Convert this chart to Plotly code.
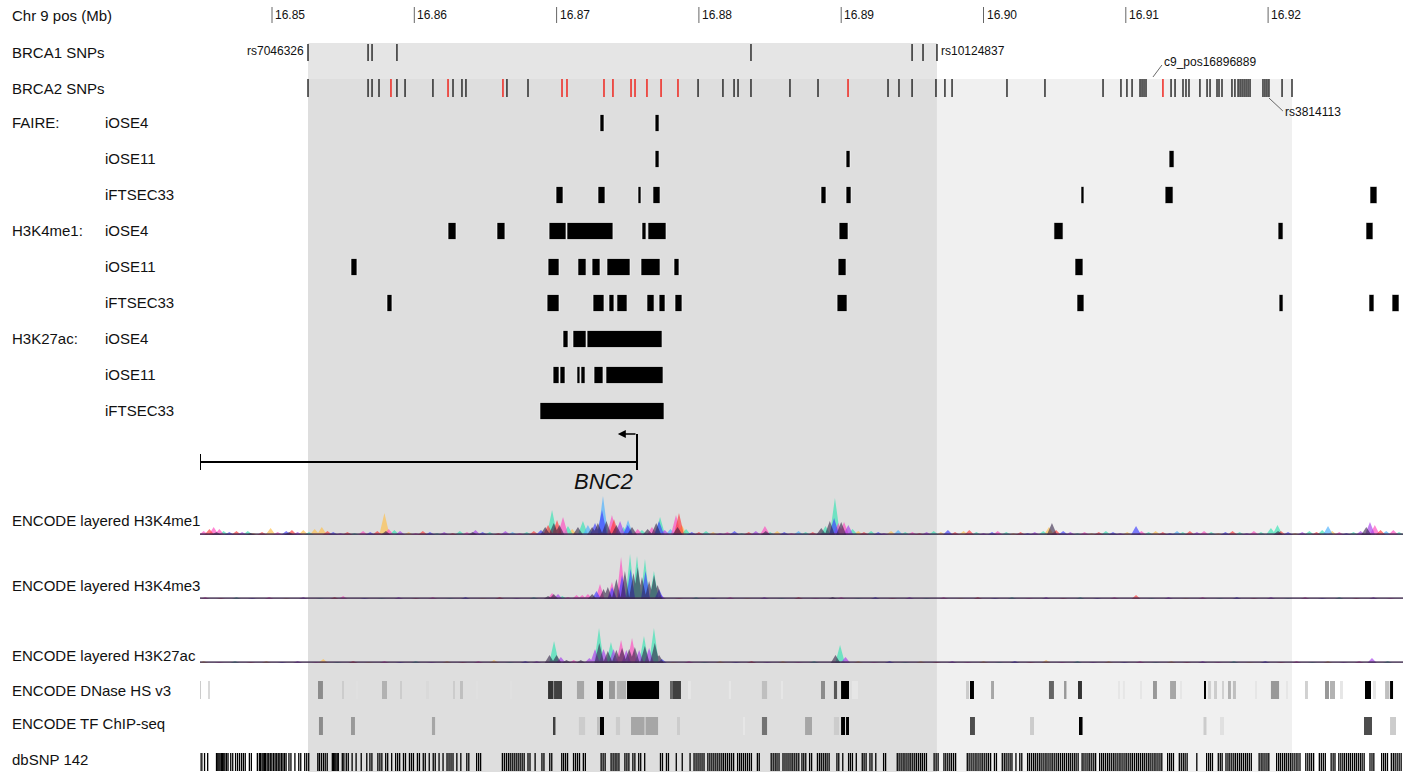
import plotly.graph_objects as go

# ------------------------------------------------------------------ data
view_start, view_end = 16844.94, 16929.48          # kb, chr9
tick_pos = [16850, 16860, 16870, 16880, 16890, 16900, 16910, 16920]
tick_labels = ["16.85", "16.86", "16.87", "16.88", "16.89", "16.90", "16.91", "16.92"]

brca1_snps = [16852.53, 16856.75, 16857.03, 16858.78, 16883.66, 16894.98, 16895.75, 16896.73]
brca2_snps = [16852.53, 16856.75, 16857.03, 16857.52, 16858.78, 16859.35, 16861.31, 16862.72,
              16863.35, 16863.63, 16866.51, 16867.99, 16879.94, 16881.69, 16882.47, 16882.75,
              16883.66, 16886.40, 16888.37, 16893.29, 16894.06, 16894.98, 16896.66, 16897.29,
              16897.79, 16901.65, 16904.32, 16908.40, 16909.66, 16910.08, 16910.44, 16911.00,
              16911.14, 16911.28, 16911.42, 16913.18, 16913.46, 16914.02, 16914.23, 16914.44,
              16915.21, 16915.71, 16915.92, 16916.41, 16916.55, 16916.76, 16917.46, 16917.67,
              16917.89, 16918.03, 16918.17, 16918.31, 16918.45, 16918.59, 16918.73, 16919.64,
              16919.78, 16919.92, 16920.06, 16920.98, 16921.68]
brca2_snps_red = [16858.36, 16862.37, 16866.23, 16870.38, 16870.73, 16873.33, 16873.96, 16875.23,
                  16875.51, 16876.35, 16877.34, 16878.53, 16890.48, 16912.61]
brca1_end_labels = ["rs7046326", "rs10124837"]
brca2_label_names = ["c9_pos16896889", "rs3814113"]
brca2_label_snps = [16912.61, 16920.06]

# called peaks (start, end) in kb
faire_iOSE4 = [(16873.05, 16873.33), (16876.92, 16877.20)]
faire_iOSE11 = [(16876.92, 16877.20), (16890.34, 16890.62), (16913.04, 16913.39)]
faire_iFTSEC33 = [(16869.96, 16870.45), (16872.91, 16873.40), (16875.72, 16875.93), (16876.77, 16877.27),
                  (16888.58, 16888.93), (16890.34, 16890.69), (16906.85, 16907.06), (16912.76, 16913.32),
                  (16927.16, 16927.65)]
k4me1_iOSE4 = [(16862.37, 16862.93), (16865.81, 16866.37), (16869.47, 16870.66), (16870.73, 16873.96),
               (16876.00, 16876.28), (16876.42, 16877.69), (16889.85, 16890.48), (16904.95, 16905.59),
               (16920.70, 16921.05), (16926.88, 16927.37)]
k4me1_iOSE11 = [(16855.55, 16855.97), (16869.40, 16870.17), (16871.50, 16872.07), (16872.49, 16873.05),
                (16873.54, 16875.16), (16875.93, 16877.27), (16878.25, 16878.60), (16889.78, 16890.34),
                (16906.43, 16906.99)]
k4me1_iFTSEC33 = [(16858.08, 16858.43), (16869.33, 16870.17), (16872.56, 16873.33), (16873.68, 16874.03),
                  (16874.24, 16874.95), (16876.35, 16876.85), (16877.20, 16877.62), (16878.32, 16878.81),
                  (16889.71, 16890.41), (16906.57, 16907.06), (16920.77, 16921.05), (16927.09, 16927.44),
                  (16928.71, 16929.20)]
k27ac_iOSE4 = [(16870.45, 16870.80), (16871.15, 16872.07), (16872.14, 16877.41)]
k27ac_iOSE11 = [(16869.75, 16870.17), (16870.24, 16870.59), (16871.43, 16871.64), (16871.71, 16872.00),
                (16872.63, 16873.26), (16873.47, 16877.48)]
k27ac_iFTSEC33 = [(16868.83, 16877.55)]

peak_groups = ["FAIRE:", "H3K4me1:", "H3K27ac:"]
peak_cells = ["iOSE4", "iOSE11", "iFTSEC33"]
peak_rows = [faire_iOSE4, faire_iOSE11, faire_iFTSEC33,
             k4me1_iOSE4, k4me1_iOSE11, k4me1_iFTSEC33,
             k27ac_iOSE4, k27ac_iOSE11, k27ac_iFTSEC33]

gene_name = "BNC2"
gene_start, gene_end = 16844.94, 16875.65     # minus strand, TSS at gene_end

# ENCODE layered histone signal: (position kb, signal, cell line code)
# r GM12878, y H1-hESC, t HSMM, c HUVEC, b K562, p NHEK, m NHLF, d overlap of several lines
me1_peaks = [
    (16845.2, 4, 'm'), (16845.6, 6, 'r'), (16845.9, 8, 'm'), (16846.1, 3, 'd'), (16846.3, 6, 'm'),
    (16846.6, 4, 't'), (16847.0, 3, 'b'), (16847.5, 4, 'r'), (16847.9, 3, 'p'), (16848.3, 4, 't'),
    (16848.5, 2, 'd'), (16848.7, 2, 'y'), (16849.3, 3, 'r'), (16849.9, 7, 'y'), (16850.4, 3, 'm'),
    (16851.0, 4, 'b'), (16851.2, 3, 'd'), (16851.4, 5, 'r'), (16851.8, 3, 'p'), (16852.2, 5, 'y'),
    (16852.6, 3, 't'), (16853.0, 6, 'y'), (16853.5, 8, 'y'), (16853.9, 4, 'r'), (16854.3, 3, 'b'),
    (16854.8, 2, 'p'), (16855.3, 3, 'r'), (16855.8, 2, 't'), (16856.4, 4, 'm'), (16856.9, 3, 'b'),
    (16857.4, 4, 'r'), (16857.9, 22, 'y'), (16858.0, 4, 'd'), (16858.2, 6, 'm'), (16858.6, 5, 't'),
    (16859.0, 4, 'p'), (16859.6, 3, 'y'), (16860.1, 2, 'm'), (16860.6, 4, 'r'), (16861.1, 3, 'b'),
    (16861.6, 2, 't'), (16862.1, 3, 'p'), (16862.7, 2, 'r'), (16863.2, 4, 't'), (16863.7, 3, 'm'),
    (16864.1, 3, 'd'), (16864.3, 5, 'p'), (16864.8, 3, 'b'), (16865.3, 3, 't'), (16865.9, 2, 'r'),
    (16866.4, 4, 'p'), (16866.9, 3, 'c'), (16867.4, 2, 'm'), (16867.9, 3, 't'), (16868.4, 4, 'r'),
    (16868.9, 5, 'b'),
    (16869.2, 8, 'd'), (16869.4, 10, 'r'), (16869.68, 25, 't'), (16869.8, 12, 'd'), (16870.03, 15, 'r'),
    (16870.2, 10, 'd'), (16870.45, 18, 'm'), (16870.8, 9, 't'), (16871.1, 6, 'y'), (16871.5, 8, 'd'),
    (16871.85, 14, 't'), (16872.2, 10, 'c'), (16872.5, 8, 'd'), (16872.7, 12, 'b'), (16872.9, 12, 'd'),
    (16873.19, 25, 'b'), (16873.26, 39, 'c'), (16873.5, 14, 'd'), (16873.89, 20, 'm'), (16874.03, 16, 'r'),
    (16874.2, 10, 'd'), (16874.46, 14, 'p'), (16874.7, 8, 't'), (16875.0, 10, 'b'), (16875.02, 15, 'c'),
    (16875.3, 8, 'd'), (16875.7, 6, 'm'), (16876.0, 5, 't'), (16876.4, 6, 'd'), (16876.7, 8, 'm'),
    (16877.0, 12, 'd'), (16877.2, 14, 'b'), (16877.27, 18, 't'), (16877.6, 5, 'p'), (16878.0, 6, 'c'),
    (16878.39, 20, 'm'), (16878.6, 22, 'r'), (16878.5, 8, 'd'), (16878.8, 10, 'y'), (16879.1, 6, 't'),
    (16879.5, 3, 'b'),
    (16880.0, 3, 'r'), (16880.5, 4, 't'), (16881.0, 3, 'y'), (16881.5, 2, 'p'), (16882.0, 3, 'm'),
    (16882.5, 4, 'b'), (16883.0, 2, 't'), (16883.5, 3, 'r'), (16884.0, 4, 'p'), (16884.64, 9, 'm'),
    (16884.7, 4, 'd'), (16885.0, 3, 't'), (16885.5, 4, 'y'), (16886.0, 3, 'b'), (16886.5, 2, 'm'),
    (16887.0, 4, 'c'), (16887.5, 3, 't'), (16888.0, 3, 'r'), (16888.6, 7, 'd'), (16888.9, 9, 't'),
    (16889.2, 14, 'd'), (16889.5, 17, 'b'), (16889.56, 37, 't'), (16889.8, 12, 'm'), (16890.0, 13, 'd'),
    (16890.2, 13, 'm'), (16890.5, 10, 'p'), (16890.8, 6, 't'), (16891.2, 4, 'y'), (16891.6, 3, 'r'),
    (16892.1, 4, 't'), (16892.6, 3, 'b'), (16893.0, 2, 'p'), (16893.5, 4, 'y'), (16894.0, 5, 'c'),
    (16894.5, 3, 't'), (16895.0, 3, 'm'), (16895.5, 2, 'r'), (16896.0, 3, 'p'), (16896.5, 4, 't'),
    (16897.0, 3, 'y'), (16897.5, 5, 'b'), (16898.0, 3, 'r'), (16898.6, 4, 'y'), (16899.0, 5, 'r'),
    (16899.5, 3, 't'), (16900.0, 2, 'p'), (16900.6, 3, 'b'), (16901.0, 4, 'm'), (16901.6, 3, 't'),
    (16902.1, 2, 'y'), (16902.6, 3, 'r'), (16903.1, 2, 'b'), (16903.6, 3, 'p'), (16904.2, 4, 't'),
    (16904.6, 8, 'y'), (16904.81, 12, 'd'), (16905.1, 5, 'r'), (16905.6, 4, 'b'), (16906.1, 3, 'p'),
    (16906.6, 2, 't'), (16907.1, 3, 'm'), (16907.6, 2, 'y'), (16908.1, 3, 'r'), (16908.6, 4, 't'),
    (16909.1, 3, 'b'), (16909.6, 2, 'p'), (16910.1, 3, 'y'), (16910.72, 9, 'b'), (16911.1, 4, 'm'),
    (16911.6, 3, 't'), (16912.1, 4, 'y'), (16912.6, 3, 'r'), (16913.1, 2, 'b'), (16913.6, 4, 'c'),
    (16914.0, 3, 't'), (16914.5, 4, 'r'), (16915.0, 3, 'p'), (16915.5, 4, 'm'), (16916.0, 3, 't'),
    (16916.5, 2, 'y'), (16917.0, 3, 'b'), (16917.5, 4, 'r'), (16918.0, 3, 't'), (16918.5, 2, 'p'),
    (16919.0, 4, 'm'), (16919.5, 3, 't'), (16920.2, 7, 't'), (16920.66, 10, 't'), (16920.7, 4, 'd'),
    (16920.9, 4, 'r'), (16921.4, 3, 'b'), (16921.9, 2, 'y'), (16922.4, 3, 'p'), (16922.9, 4, 't'),
    (16923.4, 3, 'r'), (16923.8, 5, 't'), (16924.21, 9, 'c'), (16924.5, 4, 'y'), (16925.0, 3, 'm'),
    (16925.5, 2, 'b'), (16926.0, 3, 't'), (16926.5, 4, 'p'), (16926.9, 8, 'd'), (16927.16, 13, 'p'),
    (16927.5, 10, 'm'), (16927.9, 5, 'r'), (16928.3, 4, 'c'), (16928.8, 5, 'm'), (16929.2, 3, 't'),
]

me3_peaks = [
    (16845.3, 2, 'm'), (16846.4, 1, 'r'), (16847.5, 2, 't'), (16848.6, 1, 'b'), (16849.8, 2, 'm'),
    (16851.0, 1, 'y'), (16852.2, 2, 'p'), (16853.4, 1, 't'), (16854.4, 2, 'r'), (16855.0, 3, 'm'),
    (16856.5, 1, 'b'), (16857.7, 1, 't'), (16858.9, 2, 'p'), (16860.1, 1, 'r'), (16861.3, 2, 'm'),
    (16862.5, 1, 't'), (16863.6, 2, 'b'), (16864.8, 1, 'y'), (16866.0, 2, 'r'), (16867.2, 1, 'p'),
    (16868.4, 2, 't'),
    (16869.4, 3, 'd'), (16869.68, 6, 'm'), (16869.8, 5, 'd'), (16870.1, 5, 'p'), (16870.4, 3, 't'),
    (16870.8, 2, 'm'), (16871.4, 4, 'm'), (16871.8, 4, 'm'), (16872.2, 5, 'm'), (16872.5, 5, 'd'),
    (16872.8, 8, 'b'), (16873.05, 15, 'm'), (16873.3, 10, 'd'), (16873.6, 12, 'd'), (16873.89, 17, 'm'),
    (16873.9, 12, 'b'), (16874.2, 20, 'd'), (16874.53, 42, 'm'), (16874.6, 24, 'b'), (16874.8, 28, 'd'),
    (16875.16, 45, 't'), (16875.2, 30, 'b'), (16875.4, 26, 'd'), (16875.65, 43, 't'), (16875.7, 32, 'd'),
    (16876.0, 22, 'd'), (16876.21, 40, 't'), (16876.25, 28, 'b'), (16876.5, 18, 'd'), (16876.84, 28, 't'),
    (16876.85, 24, 'd'), (16877.1, 14, 'd'), (16877.2, 10, 'b'), (16877.35, 4, 'p'),
    (16878.6, 1, 'r'), (16879.8, 2, 't'), (16881.0, 1, 'b'), (16882.2, 2, 'm'), (16883.4, 1, 'y'),
    (16884.6, 2, 'p'), (16885.8, 1, 't'), (16887.0, 2, 'r'), (16888.2, 1, 'm'), (16889.4, 2, 'd'),
    (16890.0, 2, 'm'), (16891.2, 1, 't'), (16892.4, 2, 'b'), (16893.6, 1, 'r'), (16894.8, 2, 'p'),
    (16896.0, 1, 't'), (16897.2, 2, 'm'), (16898.4, 1, 'y'), (16899.6, 2, 'r'), (16900.8, 1, 'b'),
    (16902.0, 2, 't'), (16903.2, 1, 'm'), (16904.4, 2, 'p'), (16905.6, 1, 'r'), (16906.8, 2, 't'),
    (16908.0, 1, 'b'), (16909.2, 2, 'm'), (16910.72, 4, 'r'), (16911.8, 1, 't'), (16913.0, 2, 'p'),
    (16914.2, 1, 'y'), (16915.4, 2, 'm'), (16916.6, 1, 't'), (16917.8, 2, 'b'), (16919.0, 1, 'r'),
    (16920.2, 2, 'p'), (16921.4, 1, 't'), (16922.6, 2, 'm'), (16923.8, 1, 'b'), (16925.0, 2, 't'),
    (16926.2, 1, 'r'), (16927.4, 2, 'p'), (16928.6, 1, 'm'),
]

k27ac_peaks = [
    (16845.2, 2, 'y'), (16846.3, 1, 'm'), (16847.4, 2, 't'), (16848.5, 1, 'r'), (16849.6, 2, 'y'),
    (16850.7, 1, 'b'), (16851.8, 2, 'p'), (16853.1, 1, 'm'), (16853.6, 4, 'y'), (16854.6, 1, 't'),
    (16855.7, 2, 'r'), (16856.8, 1, 'y'), (16857.9, 2, 'm'), (16859.0, 1, 'b'), (16860.1, 2, 't'),
    (16861.2, 1, 'p'), (16862.3, 2, 'y'), (16863.4, 1, 'r'), (16864.5, 2, 'm'), (16865.6, 3, 'y'),
    (16866.7, 1, 't'), (16867.8, 2, 'b'), (16868.6, 2, 'p'),
    (16869.5, 8, 'd'), (16869.82, 22, 't'), (16870.0, 8, 'd'), (16870.3, 6, 'p'), (16870.7, 3, 'd'),
    (16871.2, 3, 'm'), (16871.7, 3, 'd'), (16872.3, 5, 'p'), (16872.7, 14, 'p'), (16872.98, 35, 't'),
    (16873.0, 20, 'd'), (16873.3, 14, 'p'), (16873.6, 12, 'd'), (16873.82, 21, 't'), (16874.0, 14, 'p'),
    (16874.2, 13, 'd'), (16874.53, 23, 'm'), (16874.6, 15, 'd'), (16874.9, 13, 'p'), (16875.1, 14, 'd'),
    (16875.3, 25, 'm'), (16875.5, 16, 'd'), (16875.8, 13, 'p'), (16876.14, 27, 't'), (16876.2, 17, 'd'),
    (16876.5, 15, 'p'), (16876.84, 35, 't'), (16876.9, 20, 'd'), (16877.2, 8, 'd'), (16877.4, 4, 'b'),
    (16878.2, 1, 'y'), (16879.3, 2, 'm'), (16880.4, 1, 't'), (16881.5, 2, 'y'), (16882.6, 1, 'b'),
    (16883.7, 2, 'r'), (16884.8, 1, 'p'), (16885.9, 2, 'y'), (16887.0, 1, 'm'), (16888.1, 2, 't'),
    (16889.6, 8, 'd'), (16889.92, 18, 't'), (16890.3, 6, 'p'), (16891.2, 2, 'y'), (16892.3, 1, 'm'),
    (16893.4, 2, 'b'), (16894.5, 1, 't'), (16895.6, 2, 'y'), (16896.7, 1, 'r'), (16897.8, 2, 'p'),
    (16898.9, 1, 'm'), (16900.0, 2, 'y'), (16901.1, 1, 't'), (16902.2, 2, 'b'), (16903.3, 1, 'r'),
    (16904.4, 3, 'y'), (16905.5, 1, 'm'), (16906.6, 2, 't'), (16907.7, 1, 'p'), (16908.8, 2, 'y'),
    (16909.9, 1, 'b'), (16911.0, 2, 'm'), (16912.1, 1, 't'), (16913.2, 2, 'y'), (16914.3, 1, 'r'),
    (16915.4, 2, 'p'), (16916.5, 1, 'm'), (16917.6, 2, 't'), (16918.7, 1, 'y'), (16919.8, 2, 'b'),
    (16920.9, 1, 'r'), (16922.0, 2, 'm'), (16923.1, 1, 't'), (16924.2, 2, 'y'), (16925.3, 1, 'p'),
    (16926.4, 2, 'm'), (16927.3, 5, 'p'), (16928.4, 2, 't'),
]

# ENCODE DNase HS v3 clusters: (start, end, score 0-1000)
dnase_clusters = [
    (16844.87, 16844.98, 200), (16845.57, 16845.64, 150), (16853.23, 16853.58, 450), (16854.92, 16855.06, 200),
    (16855.97, 16856.04, 120), (16857.73, 16858.08, 300), (16859.00, 16859.07, 200), (16860.89, 16861.03, 150),
    (16862.72, 16862.86, 200), (16863.28, 16863.42, 250), (16864.34, 16864.41, 120), (16866.73, 16866.87, 120),
    (16869.40, 16869.78, 800), (16869.82, 16870.38, 750), (16871.43, 16871.93, 350), (16872.84, 16873.26, 1000),
    (16873.68, 16874.10, 400), (16874.24, 16874.88, 300), (16874.95, 16877.20, 1000), (16877.97, 16878.18, 600),
    (16878.18, 16878.74, 750), (16879.30, 16879.44, 100), (16882.11, 16882.26, 100), (16884.43, 16884.79, 250),
    (16885.77, 16885.91, 100), (16888.58, 16888.86, 450), (16889.49, 16889.71, 650), (16889.99, 16890.55, 1000),
    (16890.76, 16891.18, 100), (16898.77, 16898.98, 200), (16899.05, 16899.33, 1000), (16900.53, 16900.74, 350),
    (16904.60, 16904.95, 600), (16905.66, 16905.83, 400), (16906.64, 16906.92, 800), (16909.45, 16909.59, 100),
    (16909.80, 16909.94, 100), (16911.00, 16911.14, 100), (16911.91, 16912.19, 400), (16913.11, 16913.53, 350),
    (16913.81, 16913.95, 100), (16915.50, 16915.60, 1000), (16915.78, 16915.99, 180), (16916.20, 16916.41, 200),
    (16916.76, 16916.90, 180), (16917.25, 16917.39, 300), (16917.53, 16917.74, 250), (16919.08, 16919.22, 100),
    (16920.20, 16920.77, 400), (16921.26, 16921.40, 100), (16922.66, 16922.80, 180), (16924.00, 16924.28, 400),
    (16924.35, 16924.70, 300), (16925.12, 16925.26, 100), (16926.81, 16927.23, 1000), (16927.44, 16927.58, 100),
    (16928.22, 16928.53, 250), (16928.57, 16928.78, 1000),
]

# ENCODE TF ChIP-seq clusters: (start, end, score 0-1000)
tf_clusters = [
    (16853.30, 16853.58, 450), (16855.55, 16855.83, 400), (16861.24, 16861.46, 350), (16869.78, 16869.92, 750),
    (16871.57, 16872.00, 200), (16872.84, 16873.05, 250), (16873.05, 16873.33, 1000), (16874.17, 16874.46, 200),
    (16875.23, 16876.18, 350), (16876.25, 16877.13, 350), (16878.46, 16878.67, 200), (16883.10, 16883.24, 100),
    (16884.43, 16884.79, 550), (16887.46, 16887.95, 350), (16889.49, 16889.85, 200), (16889.99, 16890.27, 1000),
    (16890.34, 16890.55, 1000), (16899.05, 16899.40, 700), (16903.27, 16903.55, 200), (16906.71, 16906.96, 1000),
    (16915.46, 16915.67, 200), (16916.62, 16916.90, 120), (16926.74, 16927.30, 700), (16928.57, 16928.99, 200),
]

# dbSNP 142 variant positions (kb)
dbsnp142 = [
    16844.93, 16845.07, 16845.26, 16845.48, 16846.10, 16846.19, 16846.27, 16846.35, 16846.44, 16846.52,
    16846.61, 16846.69, 16846.80, 16846.91, 16847.10, 16847.24, 16847.44, 16847.58, 16847.72, 16847.86,
    16847.99, 16848.12, 16848.41, 16848.55, 16848.97, 16849.11, 16849.19, 16849.30, 16849.38, 16849.47,
    16849.55, 16849.66, 16849.77, 16849.88, 16849.99, 16850.11, 16850.22, 16850.33, 16850.44, 16850.55,
    16850.66, 16850.77, 16850.88, 16850.99, 16851.19, 16851.33, 16851.61, 16851.88, 16852.02, 16852.30,
    16852.44, 16852.58, 16853.22, 16853.33, 16853.47, 16853.61, 16853.74, 16853.88, 16854.24, 16854.33,
    16854.41, 16854.49, 16854.58, 16854.66, 16854.94, 16855.05, 16855.22, 16855.36, 16855.63, 16855.91,
    16856.27, 16856.66, 16856.88, 16857.02, 16857.44, 16857.58, 16857.72, 16857.99, 16858.13, 16858.41,
    16858.69, 16858.83, 16858.97, 16859.24, 16859.38, 16859.66, 16859.80, 16859.94, 16860.22, 16860.36,
    16860.63, 16860.77, 16861.05, 16861.33, 16861.47, 16861.74, 16862.02, 16862.30, 16862.44, 16862.58,
    16862.72, 16862.99, 16863.27, 16863.69, 16863.83, 16864.38, 16864.52, 16864.66, 16866.19, 16866.33,
    16866.47, 16866.61, 16866.74, 16866.88, 16867.02, 16867.16, 16867.30, 16867.44, 16867.58, 16867.72,
    16867.99, 16868.13, 16868.49, 16868.97, 16869.11, 16869.52, 16869.66, 16870.36, 16870.49, 16870.63,
    16870.77, 16871.19, 16871.33, 16871.47, 16871.61, 16871.88, 16872.02, 16873.13, 16873.27, 16873.41,
    16873.83, 16873.97, 16874.11, 16874.24, 16874.38, 16874.80, 16874.94, 16875.08, 16875.36, 16875.50,
    16875.77, 16875.91, 16876.19, 16877.30, 16877.44, 16877.72, 16877.86, 16878.41, 16878.83, 16879.38,
    16879.66, 16879.80, 16879.94, 16880.08, 16880.22, 16880.36, 16880.63, 16880.77, 16880.91, 16881.05,
    16881.19, 16881.33, 16881.47, 16881.61, 16881.74, 16881.88, 16882.02, 16882.16, 16882.30, 16882.44,
    16882.72, 16882.86, 16882.99, 16883.13, 16883.27, 16883.41, 16883.55, 16883.69, 16884.11, 16884.24,
    16885.08, 16885.22, 16885.36, 16885.49, 16885.63, 16885.91, 16886.05, 16886.19, 16886.33, 16886.47,
    16886.60, 16886.74, 16886.88, 16887.02, 16887.24, 16887.37, 16887.51, 16887.78, 16887.92, 16888.33,
    16888.47, 16888.60, 16888.74, 16888.88, 16889.01, 16889.15, 16889.70, 16889.83, 16890.11, 16890.52,
    16890.65, 16890.79, 16891.06, 16891.48, 16891.61, 16891.75, 16892.02, 16892.16, 16892.43, 16892.98,
    16893.12, 16893.94, 16894.07, 16894.21, 16894.35, 16894.48, 16894.62, 16894.76, 16894.89, 16895.03,
    16895.17, 16895.30, 16895.44, 16895.58, 16895.71, 16895.85, 16895.99, 16896.53, 16896.67, 16896.81,
    16897.22, 16897.35, 16897.49, 16897.63, 16897.76, 16897.90, 16898.04, 16898.86, 16898.99, 16899.13,
    16899.27, 16899.41, 16899.54, 16899.68, 16899.82, 16899.95, 16900.09, 16900.23, 16900.36, 16900.50,
    16900.77, 16900.91, 16901.32, 16901.46, 16901.59, 16901.73, 16901.87, 16902.00, 16902.28, 16902.55,
    16902.69, 16903.10, 16903.23, 16903.37, 16903.51, 16903.64, 16903.78, 16903.92, 16904.05, 16904.19,
    16904.33, 16904.46, 16904.60, 16904.74, 16904.87, 16905.01, 16905.15, 16905.28, 16905.42, 16905.56,
    16905.69, 16905.83, 16905.97, 16906.10, 16906.24, 16906.38, 16906.51, 16906.65, 16906.93, 16907.06,
    16907.20, 16907.34, 16907.47, 16907.61, 16907.75, 16907.88, 16908.16, 16908.30, 16908.43, 16908.57,
    16908.71, 16908.84, 16908.98, 16909.12, 16909.25, 16909.39, 16909.53, 16909.66, 16909.80, 16909.94,
    16910.07, 16910.21, 16910.35, 16910.48, 16910.62, 16910.76, 16910.89, 16911.03, 16911.17, 16911.30,
    16911.44, 16911.58, 16911.71, 16911.85, 16911.99, 16912.12, 16912.26, 16912.40, 16912.53, 16912.94,
    16913.08, 16913.21, 16913.35, 16913.76, 16913.90, 16914.04, 16914.17, 16914.31, 16914.99, 16915.68,
    16915.82, 16915.95, 16916.09, 16916.50, 16916.64, 16916.77, 16917.04, 16917.18, 16917.31, 16917.45,
    16917.59, 16917.72, 16917.86, 16918.00, 16918.13, 16918.27, 16918.41, 16918.54, 16918.68, 16918.82,
    16919.37, 16919.51, 16919.64, 16919.78, 16919.92, 16920.05, 16920.60, 16920.74, 16920.87, 16921.01,
    16921.15, 16921.28, 16921.42, 16921.56, 16921.69, 16921.83, 16921.97, 16922.10, 16922.24, 16922.65,
    16922.79, 16922.93, 16923.06, 16923.20, 16923.60, 16923.74, 16923.88, 16924.02, 16924.43, 16924.57,
    16924.70, 16924.97, 16925.11, 16925.25, 16925.38, 16925.52, 16925.66, 16925.79, 16925.93, 16926.07,
    16926.20, 16926.34, 16926.48, 16926.61, 16926.75, 16927.16, 16927.30, 16927.43, 16927.98, 16928.12,
    16928.25, 16928.39, 16928.66, 16928.80, 16928.93, 16929.07, 16929.21, 16929.35,
]

track_labels = ["ENCODE layered H3K4me1", "ENCODE layered H3K4me3", "ENCODE layered H3K27ac",
                "ENCODE DNase HS v3", "ENCODE TF ChIP-seq", "dbSNP 142"]

# ------------------------------------------------------------------ style / layout
W, H = 1411, 772
FONT = "Liberation Sans, Arial, Helvetica, sans-serif"
LABEL_SIZE = 15
X_LEFT, X_RIGHT = 200, 1403

cell_colors = {
    'y': "rgba(255,190,70,0.65)", 't': "rgba(50,228,178,0.65)", 'c': "rgba(70,175,255,0.65)",
    'm': "rgba(255,70,190,0.65)", 'r': "rgba(255,55,55,0.65)", 'p': "rgba(165,60,235,0.65)",
    'b': "rgba(60,60,255,0.65)", 'd': "rgba(45,30,65,0.58)",
}
draw_order = ['y', 't', 'c', 'm', 'r', 'p', 'b', 'd']

fig = go.Figure()
shapes, annots = [], []

# shaded regions (BRCA1 interval and BRCA2 extension)
b1_lo, b1_hi = min(brca1_snps), max(brca1_snps)
b2_hi = max(brca2_snps + brca2_snps_red)
shapes.append(dict(type="rect", xref="x", yref="y", x0=b1_lo, x1=b1_hi, y0=43, y1=79,
                   fillcolor="#e5e5e5", line_width=0, layer="below"))
shapes.append(dict(type="rect", xref="x", yref="y", x0=b1_lo, x1=b1_hi, y0=79, y1=H,
                   fillcolor="#dedede", line_width=0, layer="below"))
shapes.append(dict(type="rect", xref="x", yref="y", x0=b1_hi, x1=b2_hi, y0=79, y1=H,
                   fillcolor="#f0f0f0", line_width=0, layer="below"))

# top axis
annots.append(dict(x=10 / W, xref="paper", y=15, yref="y", text="Chr 9 pos (Mb)", showarrow=False,
                   xanchor="left", yanchor="middle", font=dict(size=LABEL_SIZE, color="#111", family=FONT)))
for tp, tl in zip(tick_pos, tick_labels):
    shapes.append(dict(type="line", xref="x", yref="y", x0=tp, x1=tp, y0=7, y1=23,
                       line=dict(color="#666", width=1)))
    annots.append(dict(x=tp, xref="x", y=15, yref="y", text=tl, showarrow=False, xanchor="left",
                       yanchor="middle", xshift=1, font=dict(size=12, color="#111", family=FONT)))

def tick_trace(pos, y0, y1, color, width=1.0):
    xs, ys = [], []
    for p in pos:
        xs += [p, p, None]
        ys += [y0, y1, None]
    return go.Scatter(x=xs, y=ys, mode="lines", line=dict(color=color, width=width),
                      hoverinfo="skip", xaxis="x", yaxis="y")

# SNP tracks
fig.add_trace(tick_trace(brca1_snps, 44, 61, "#111", 1.3))
fig.add_trace(tick_trace(brca2_snps, 79, 97, "#111", 1.3))
fig.add_trace(tick_trace(brca2_snps_red, 79, 97, "#f01810", 1.4))
annots.append(dict(x=brca1_snps[0], xref="x", y=51, yref="y", text=brca1_end_labels[0], showarrow=False,
                   xanchor="right", yanchor="middle", xshift=-2, font=dict(size=12, color="#111", family=FONT)))
annots.append(dict(x=brca1_snps[-1], xref="x", y=51, yref="y", text=brca1_end_labels[1], showarrow=False,
                   xanchor="left", yanchor="middle", xshift=2, font=dict(size=12, color="#111", family=FONT)))
# labelled BRCA2 SNPs with leader lines
shapes.append(dict(type="line", xref="x", yref="y", x0=brca2_label_snps[0] - 0.70, x1=brca2_label_snps[0] - 0.07,
                   y0=77, y1=65, line=dict(color="#444", width=0.8)))
annots.append(dict(x=brca2_label_snps[0], xref="x", y=62, yref="y", text=brca2_label_names[0], showarrow=False,
                   xanchor="left", yanchor="middle", xshift=-1, font=dict(size=12, color="#111", family=FONT)))
shapes.append(dict(type="line", xref="x", yref="y", x0=brca2_label_snps[1], x1=brca2_label_snps[1] + 0.98,
                   y0=98, y1=111, line=dict(color="#444", width=0.8)))
annots.append(dict(x=brca2_label_snps[1] + 0.98, xref="x", y=112, yref="y", text=brca2_label_names[1],
                   showarrow=False, xanchor="left", yanchor="middle", font=dict(size=12, color="#111", family=FONT)))

for lab, py in [("BRCA1 SNPs", 52), ("BRCA2 SNPs", 88)]:
    annots.append(dict(x=10 / W, xref="paper", y=py, yref="y", text=lab, showarrow=False, xanchor="left",
                       yanchor="middle", font=dict(size=LABEL_SIZE, color="#111", family=FONT)))

# peak rows
ROW0, ROW_STEP, BAR_H = 123, 36, 17
for i, row in enumerate(peak_rows):
    yc = ROW0 + i * ROW_STEP
    fig.add_trace(go.Bar(orientation="h", base=[s for s, e in row], x=[e - s for s, e in row],
                         y=[yc] * len(row), width=BAR_H,
                         marker=dict(color="black", line=dict(color="rgba(255,255,255,0.9)", width=0.7)),
                         hoverinfo="skip", xaxis="x", yaxis="y"))
    if i % 3 == 0:
        annots.append(dict(x=10 / W, xref="paper", y=yc - 1, yref="y", text=peak_groups[i // 3], showarrow=False,
                           xanchor="left", yanchor="middle", font=dict(size=LABEL_SIZE, color="#111", family=FONT)))
    annots.append(dict(x=103 / W, xref="paper", y=yc - 1, yref="y", text=peak_cells[i % 3], showarrow=False,
                       xanchor="left", yanchor="middle", font=dict(size=LABEL_SIZE, color="#111", family=FONT)))

# gene model (minus strand)
GENE_Y = 462
fig.add_trace(go.Scatter(x=[gene_start, gene_end], y=[GENE_Y, GENE_Y], mode="lines",
                         line=dict(color="black", width=2), hoverinfo="skip", xaxis="x", yaxis="y"))
shapes.append(dict(type="line", xref="x", yref="y", x0=gene_start, x1=gene_start, y0=454, y1=470,
                   line=dict(color="black", width=2)))
shapes.append(dict(type="line", xref="x", yref="y", x0=gene_end, x1=gene_end, y0=434, y1=470,
                   line=dict(color="black", width=2)))
annots.append(dict(x=gene_end - 1.35, y=434, xref="x", yref="y", ax=gene_end, ay=434, axref="x", ayref="y",
                   text="", showarrow=True, arrowhead=2, arrowsize=1, arrowwidth=1.6, arrowcolor="black"))
annots.append(dict(x=gene_end, xref="x", y=481, yref="y", text="<i>" + gene_name + "</i>", showarrow=False,
                   xanchor="right", yanchor="middle", xshift=-2,
                   font=dict(size=22, color="#111", family=FONT)))

# ENCODE layered signals
def spike_poly(peaks, code, hw):
    xs, ys = [], []
    for p, v, c in peaks:
        if c == code:
            xs += [p - hw, p, p + hw, None]
            ys += [0, v, 0, None]
    return xs, ys

layered = [(me1_peaks, "y2", 535, 0.36), (me3_peaks, "y3", 599, 0.32), (k27ac_peaks, "y4", 663, 0.34)]
SIG_H = 45
yaxes = {}
for k, (peaks, yax, base_py, hw) in enumerate(layered):
    for code in draw_order:
        xs, ys = spike_poly(peaks, code, hw)
        if not xs:
            continue
        fig.add_trace(go.Scatter(x=xs, y=ys, mode="lines", fill="toself", fillcolor=cell_colors[code],
                                 line=dict(width=0, color=cell_colors[code]), hoverinfo="skip",
                                 xaxis="x", yaxis=yax))
    fig.add_trace(go.Scatter(x=[view_start, view_end], y=[0.6, 0.6], mode="lines",
                             line=dict(color="rgba(60,40,75,0.8)", width=2.4), hoverinfo="skip",
                             xaxis="x", yaxis=yax))
    name = "yaxis" + yax[1:]
    yaxes[name] = dict(domain=[1 - base_py / H, 1 - (base_py - SIG_H) / H], range=[0, SIG_H],
                       visible=False, fixedrange=True, anchor="x")

# DNase / TF clusters
def gray(score):
    g = int(round(255 * (1 - score / 1000)))
    return f"rgb({g},{g},{g})"

for clusters, yc in [(dnase_clusters, 690), (tf_clusters, 726)]:
    fig.add_trace(go.Bar(orientation="h", base=[s for s, e, sc in clusters], x=[e - s for s, e, sc in clusters],
                         y=[yc] * len(clusters), width=18,
                         marker=dict(color=[gray(sc) for s, e, sc in clusters], line=dict(width=0)),
                         hoverinfo="skip", xaxis="x", yaxis="y"))

# dbSNP
fig.add_trace(tick_trace(dbsnp142, 753, 771, "#000", 1.3))

for lab, py in zip(track_labels, [520, 585, 655, 690, 723, 759]):
    annots.append(dict(x=10 / W, xref="paper", y=py, yref="y", text=lab, showarrow=False, xanchor="left",
                       yanchor="middle", font=dict(size=LABEL_SIZE, color="#111", family=FONT)))

fig.update_layout(
    width=W, height=H, margin=dict(l=0, r=0, t=0, b=0),
    paper_bgcolor="white", plot_bgcolor="rgba(0,0,0,0)",
    showlegend=False, barmode="overlay",
    xaxis=dict(domain=[X_LEFT / W, X_RIGHT / W], range=[view_start, view_end], visible=False, fixedrange=True),
    yaxis=dict(domain=[0, 1], range=[H, 0], visible=False, fixedrange=True),
    shapes=shapes, annotations=annots,
    font=dict(family=FONT),
    **yaxes,
)
fig.write_html("out.html", config={"displayModeBar": False},
               post_script="document.body.style.margin='0px';document.body.style.overflow='hidden';")
